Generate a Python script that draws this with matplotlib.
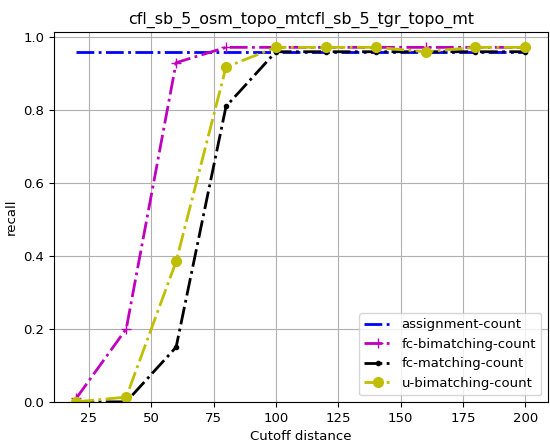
import matplotlib
matplotlib.use("Agg")
import matplotlib.pyplot as plt

cutoffs = [20, 40, 60, 80, 100, 120, 140, 160, 180, 200]
assignment_count = [0.96, 0.96, 0.96, 0.96, 0.96, 0.96, 0.96, 0.96, 0.96, 0.96]
fc_bimatching_count = [0.01, 0.2, 0.93, 0.972, 0.972, 0.972, 0.972, 0.972, 0.972, 0.972]
fc_matching_count = [0.0, 0.0, 0.15, 0.81, 0.96, 0.96, 0.96, 0.96, 0.96, 0.96]
u_bimatching_count = [0.0, 0.013, 0.385, 0.918, 0.972, 0.972, 0.972, 0.96, 0.972, 0.972]

plt.rcParams['font.size'] = 9.5

fig, ax = plt.subplots(figsize=(5.5, 4.45), dpi=100)
ax.plot(cutoffs, assignment_count, 'b-.', lw=2, label='assignment-count')
ax.plot(cutoffs, fc_bimatching_count, 'm-.', marker='+', ms=7, lw=2, label='fc-bimatching-count')
ax.plot(cutoffs, fc_matching_count, 'k-.', marker='.', ms=6, lw=2, label='fc-matching-count')
ax.plot(cutoffs, u_bimatching_count, 'y-.', marker='o', ms=7, lw=2, label='u-bimatching-count')

ax.set_ylim(0, 1.014)
ax.set_xlabel('Cutoff distance')
ax.set_ylabel('recall')
ax.set_title('cfl_sb_5_osm_topo_mtcfl_sb_5_tgr_topo_mt', fontsize=11.4)
ax.grid(True)
ax.legend(loc='lower right')
fig.subplots_adjust(left=0.098, right=0.996, bottom=0.097, top=0.928)
fig.savefig('out.png')
